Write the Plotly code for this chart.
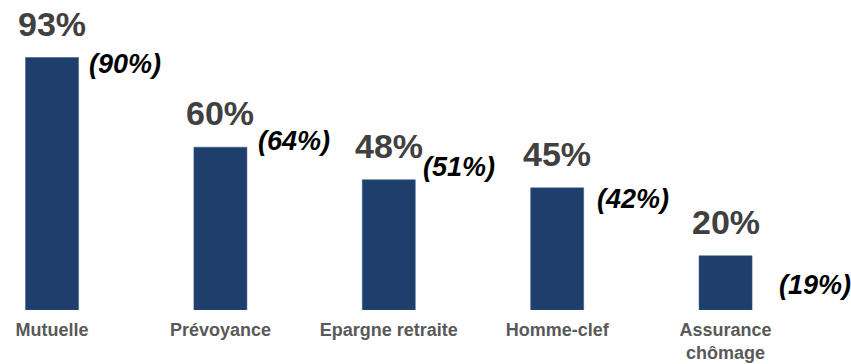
import plotly.graph_objects as go

categories = ["Mutuelle", "Prévoyance", "Epargne retraite", "Homme-clef", "Assurance<br>chômage"]
values_current = [93, 60, 48, 45, 20]
values_previous = [90, 64, 51, 42, 19]

# label nudges (pixels) for the italic comparison labels
prev_dx = [73, 74, 70, 76, 89]
prev_dy = [2, -5, 5, -3, -27]

BAR_COLOR = "#1E3F6B"
FONT = "Liberation Sans, Arial, sans-serif"

fig = go.Figure()
fig.add_trace(go.Bar(
    x=categories, y=values_current, width=0.315,
    marker=dict(color=BAR_COLOR, line=dict(color="#3A5A85", width=0.5)),
    hoverinfo="skip", showlegend=False,
))

annotations = []
for i, (c, v) in enumerate(zip(categories, values_current)):
    annotations.append(dict(
        x=c, y=v, xref="x", yref="y", text=f"<b>{v}%</b>", showarrow=False,
        yanchor="middle", xanchor="center", yshift=34,
        font=dict(family=FONT, size=34, color="#404040"),
    ))
for i, (c, v) in enumerate(zip(categories, values_previous)):
    annotations.append(dict(
        x=c, y=v, xref="x", yref="y", text=f"<b><i>({v}%)</i></b>", showarrow=False,
        yanchor="middle", xanchor="center", xshift=prev_dx[i], yshift=prev_dy[i],
        font=dict(family=FONT, size=27, color="#000000"),
    ))

fig.update_layout(
    width=851, height=364,
    margin=dict(l=0, r=0, t=0, b=54, autoexpand=False),
    paper_bgcolor="white", plot_bgcolor="white",
    annotations=annotations,
    xaxis=dict(
        type="category", range=[-0.309, 4.745], showgrid=False, showline=False,
        zeroline=False, ticks="", automargin=False, ticklabelstandoff=7,
        tickfont=dict(family=FONT, size=18, color="#595959", weight="bold"),
    ),
    yaxis=dict(range=[0, 114.2], visible=False, showgrid=False, zeroline=False, automargin=False),
)

fig.write_html("out.html", post_script="document.body.style.margin='0';",
               config={"displayModeBar": False})
